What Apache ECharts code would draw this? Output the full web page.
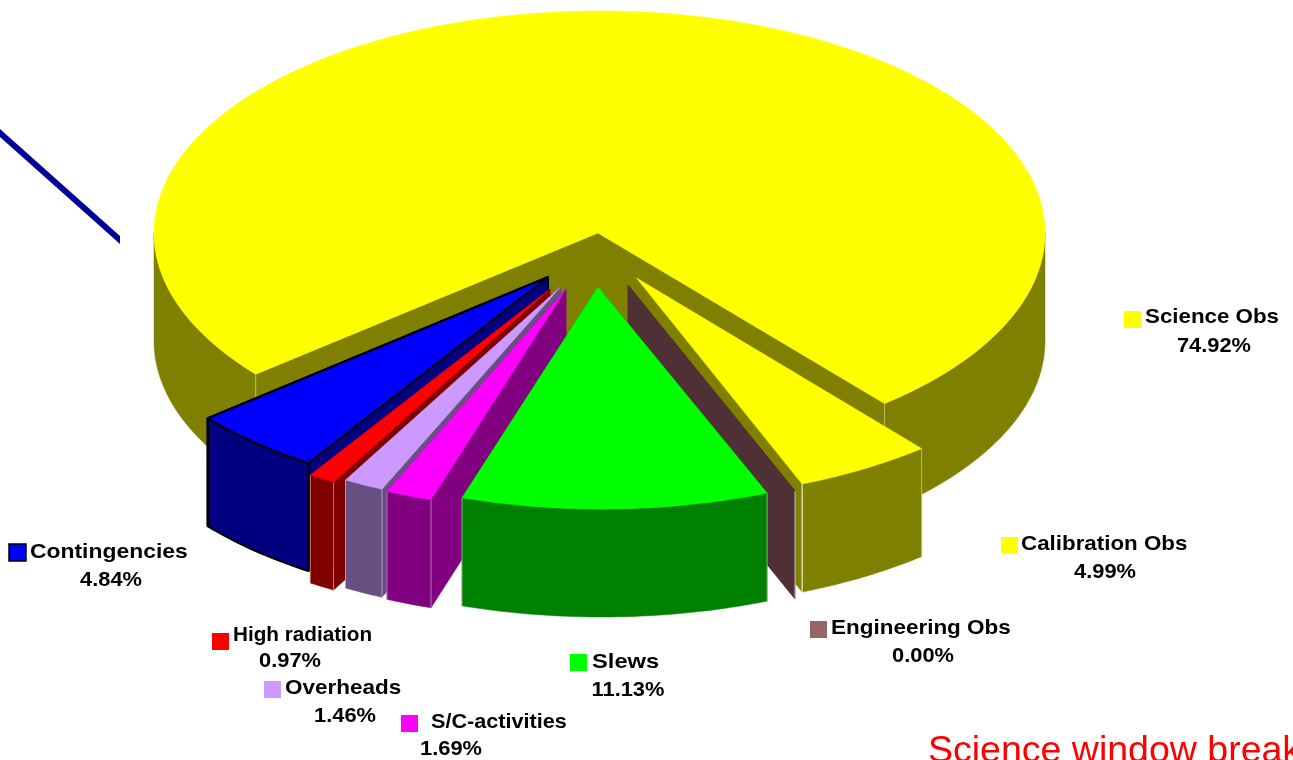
<!DOCTYPE html>
<html>
<head>
<meta charset="utf-8">
<style>
  html, body { margin: 0; padding: 0; background: #fff; overflow: hidden; }
  #chart { width: 1293px; height: 760px; }
</style>
<script src="https://cdn.jsdelivr.net/npm/echarts@6/dist/echarts.min.js"></script>
</head>
<body>
<div id="chart"></div>
<script>
const categories = ["Science Obs", "Calibration Obs", "Engineering Obs", "Slews", "S/C-activities", "Overheads", "High radiation", "Contingencies"];
const percents = [74.92, 4.99, 0.0, 11.13, 1.69, 1.46, 0.97, 4.84];

const topColors = ["#ffff00", "#ffff00", "#996666", "#00ff00", "#ff00ff", "#cc99ff", "#ff0000", "#0000ff"];
const sideColors = ["#808000", "#808000", "#4f3035", "#008000", "#800080", "#665082", "#800000", "#000080"];

// pie geometry, in page pixels
const cx = 599.5, cy = 233, rx = 445.5, ry = 222, depth = 108;
const startAngle = 140.5;
// how far each slice is pulled out of the pie
const explode = [[0, 0], [37, 45], [30, 52], [2, 54], [-29, 56], [-34, 54], [-46, 56], [-48, 44]];
// the original's slice tips sit a bit left of where the rim puts them
const apexNudge = [-1.5, 0, -1.5, -3.5, -4.5, -5, -3.5, -3.5];
// back slices first so the front ones cover them
const drawOrder = [0, 7, 6, 5, 4, 1, 2, 3];

// key box, text left, text y, percent center, percent y
const labelSpots = [
  [1124, 311, 1145, 317, 1214, 346],
  [1001, 537, 1021, 544, 1105, 572],
  [810, 621, 831, 628, 923, 656],
  [570, 654, 592, 662, 628, 690],
  [401, 715, 431, 722, 451, 749],
  [264, 681, 285, 688, 345, 716],
  [212, 633, 233, 635, 290, 661],
  [9, 544, 30, 552, 111, 580]
];
// the source text is spaced wider than the installed font, label by label
const labelStretch = [1.063, 1.064, 1.07, 1.13, 1.03, 1.07, 0.985, 1.09];

const sliceStart = [];
let running = startAngle;
percents.forEach((p) => {
  sliceStart.push(running);
  running += p * 3.6;
});

function renderSlice(params, api) {
  const i = drawOrder[params.dataIndex];
  const a0 = sliceStart[i];
  const a1 = a0 + percents[i] * 3.6;
  const [ox, oy] = explode[i];
  const top = topColors[i];
  const side = sideColors[i];
  const outlined = categories[i] === "Contingencies";
  const stroke = (c) => (outlined ? "#000" : c);
  const lw = outlined ? 2 : 0.5;

  const pt = (deg, drop) => {
    const r = (deg * Math.PI) / 180;
    return api.coord([cx + ox + rx * Math.cos(r), cy + oy + ry * Math.sin(r) + drop]);
  };
  const apex = (drop) => api.coord([cx + ox + apexNudge[i], cy + oy + drop]);
  const arc = (from, to, drop) => {
    const out = [];
    const n = Math.max(1, Math.ceil(to - from));
    for (let k = 0; k <= n; k++) out.push(pt(from + ((to - from) * k) / n, drop));
    return out;
  };
  const poly = (points, fill) => ({
    type: "polygon",
    shape: { points },
    style: { fill, stroke: stroke(fill), lineWidth: lw, lineJoin: "round" }
  });
  const edge = (deg, color) => ({
    type: "line",
    shape: { x1: pt(deg, 0)[0], y1: pt(deg, 0)[1], x2: pt(deg, depth)[0], y2: pt(deg, depth)[1] },
    style: { stroke: outlined ? "#000" : color, lineWidth: outlined ? 2 : 1 }
  });

  const children = [];

  // radial walls
  [a0, a1].forEach((deg) => {
    children.push(poly([apex(0), pt(deg, 0), pt(deg, depth), apex(depth)], side));
  });

  // outer wall, only the part of the rim facing the viewer
  [0, 360].forEach((k) => {
    const lo = Math.max(a0, k);
    const hi = Math.min(a1, k + 180);
    if (hi > lo) {
      children.push(poly(arc(lo, hi, 0).concat(arc(lo, hi, depth).reverse()), side));
    }
  });
  const seam = categories[i] === "Calibration Obs" ? "#ffffff" : "rgba(255,255,255,0.45)";
  children.push(edge(a0, "rgba(255,255,255,0.45)"), edge(a1, seam));

  // top face
  if (a1 > a0) children.push(poly([apex(0)].concat(arc(a0, a1, 0)), top));

  // legend key and label
  const [kx, ky, tx, ty, px, py] = labelSpots[i];
  children.push({
    type: "rect",
    shape: { x: kx, y: ky, width: 17, height: 17 },
    style: { fill: top, stroke: outlined ? "#000" : null, lineWidth: outlined ? 1.5 : 0 }
  });
  const font = 'bold 21px "Liberation Sans", Arial, sans-serif';
  children.push({
    type: "text",
    x: tx,
    y: ty,
    scaleX: labelStretch[i],
    style: { text: categories[i], x: 0, y: 0, font, fill: "#000", align: "left", verticalAlign: "middle" }
  });
  children.push({
    type: "text",
    x: px,
    y: py,
    scaleX: 1.04,
    style: { text: percents[i].toFixed(2) + "%", x: 0, y: 0, font, fill: "#000", align: "center", verticalAlign: "middle" }
  });

  return { type: "group", children };
}

const chart = echarts.init(document.getElementById("chart"), null, { renderer: "canvas" });

chart.setOption({
  backgroundColor: "#fff",
  animation: false,
  tooltip: { show: false },
  grid: { left: 0, right: 0, top: 0, bottom: 0 },
  xAxis: { type: "value", min: 0, max: 1293, show: false },
  yAxis: { type: "value", min: 0, max: 760, inverse: true, show: false },
  series: [
    {
      type: "custom",
      coordinateSystem: "cartesian2d",
      clip: false,
      silent: true,
      renderItem: renderSlice,
      data: drawOrder.map((i) => [i, percents[i]])
    }
  ],
  graphic: [
    {
      type: "polygon",
      silent: true,
      shape: { points: [[0, 129], [120, 236], [120, 244], [0, 137]] },
      style: { fill: "#000099" }
    },
    {
      type: "text",
      silent: true,
      left: 928,
      top: 733,
      style: {
        text: "Science window break",
        font: '37.5px "Liberation Sans", Arial, sans-serif',
        fill: "#ff0000"
      }
    }
  ]
});
</script>
</body>
</html>
